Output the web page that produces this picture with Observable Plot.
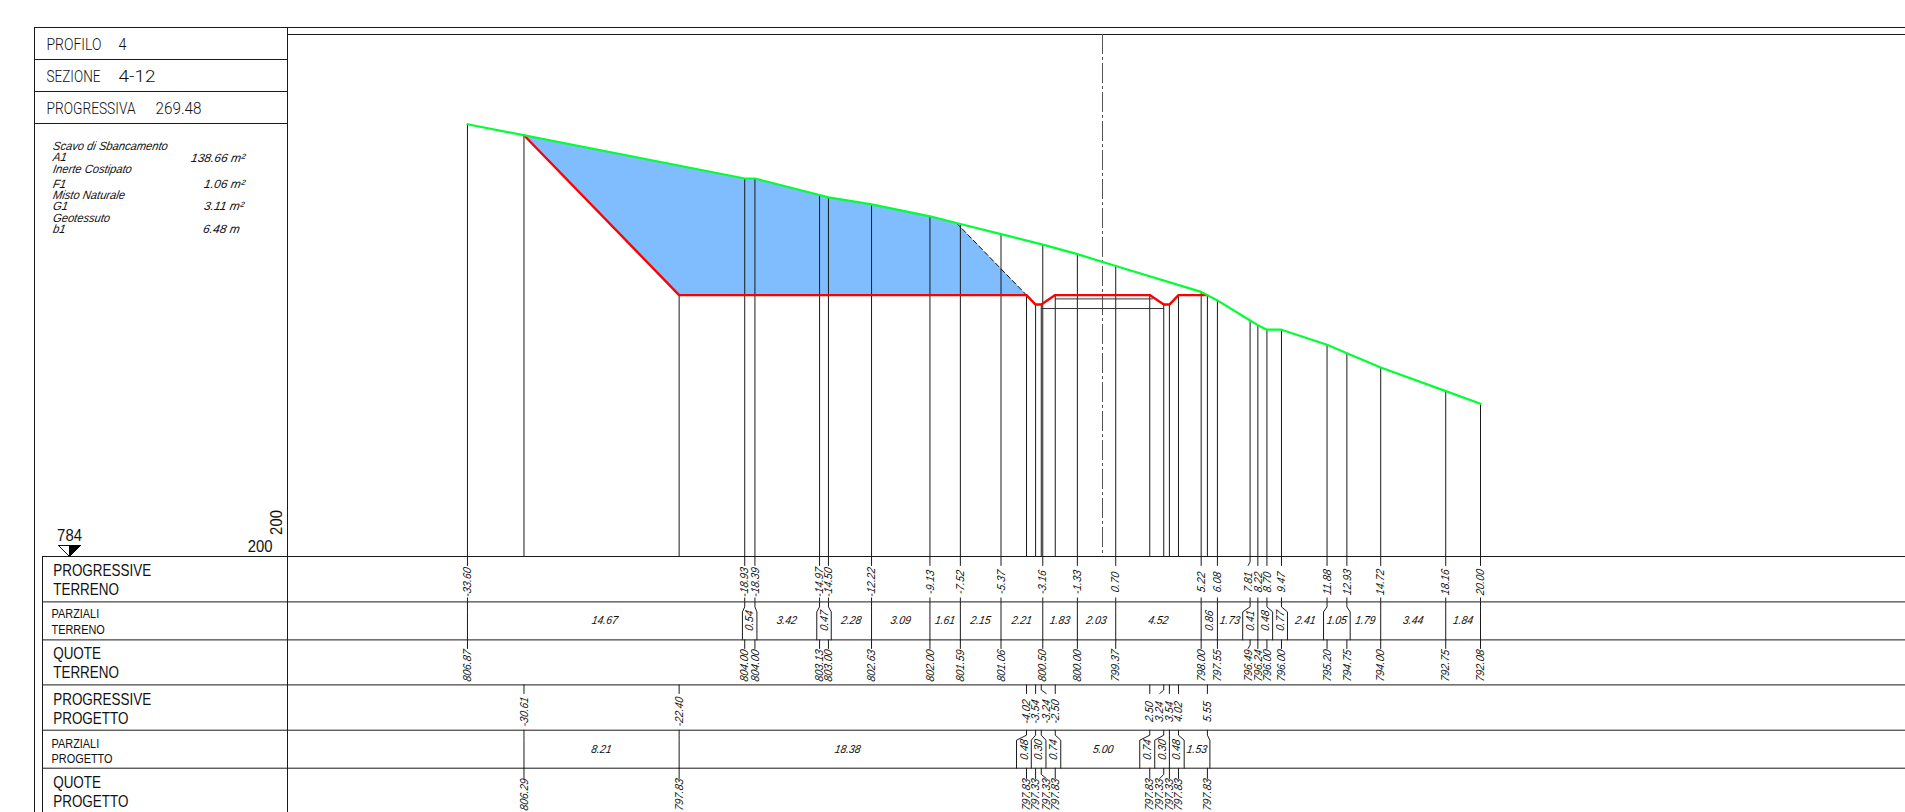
<!DOCTYPE html>
<html><head><meta charset="utf-8">
<script src="https://cdn.jsdelivr.net/npm/d3@7"></script>
<script src="https://cdn.jsdelivr.net/npm/@observablehq/plot@0.6"></script>
<style>html,body{margin:0;padding:0;background:#fff}svg{display:block}</style>
</head><body><div id="chart"></div>
<script>
// ---- values ----
const terrainStations = [-33.60,-18.93,-18.39,-14.97,-14.50,-12.22,-9.13,-7.52,-5.37,-3.16,-1.33,0.70,5.22,6.08,7.81,8.22,8.70,9.47,11.88,12.93,14.72,18.16,20.00];
const terrainLevels   = [806.87,804.00,804.00,803.13,803.00,802.63,802.00,801.59,801.06,800.50,800.00,799.37,798.00,797.55,796.49,796.24,796.00,796.00,795.20,794.75,794.00,792.75,792.08];
const terrainPartials = [14.67,0.54,3.42,0.47,2.28,3.09,1.61,2.15,2.21,1.83,2.03,4.52,0.86,1.73,0.41,0.48,0.77,2.41,1.05,1.79,3.44,1.84];
const projectStations = [-30.61,-22.40,-4.02,-3.54,-3.24,-2.50,2.50,3.24,3.54,4.02,5.55];
const projectLevels   = [806.29,797.83,797.83,797.33,797.33,797.83,797.83,797.33,797.33,797.83,797.83];
const projectPartials = [8.21,18.38,0.48,0.30,0.74,5.00,0.74,0.30,0.48,1.53];
const excavation = [[-30.61,806.29],[-18.93,804.00],[-18.39,804.00],[-14.97,803.13],[-14.50,803.00],[-12.22,802.63],[-9.13,802.00],[-7.72,801.64],[-4.02,797.83],[-22.40,797.83]];
const slopeDashed = [[-7.72,801.64],[-4.02,797.83]];
const layerTop = [[-2.50,797.63],[2.65,797.63]];
const layerBottom = [[-3.24,797.12],[3.24,797.12]];
const headerTitles = [["PROFILO",46,49,55],["4",118,49,8],["SEZIONE",46,81,54],["4-12",118,81,37],["PROGRESSIVA",46,113,89],["269.48",155,113,46]];
const quantityNames = [["Scavo di Sbancamento",149],["A1",160],["Inerte Costipato",172],["F1",187],["Misto Naturale",198],["G1",209],["Geotessuto",221],["b1",232]];
const quantityValues = [["138.66 m²",190,161],["1.06 m²",203,187],["3.11 m²",203,209],["6.48 m",202,232]];
const rowTitles = [["PROGRESSIVE",575,0],["TERRENO",594,0],["PARZIALI",617,1],["TERRENO",633,1],["QUOTE",658,0],["TERRENO",677,0],["PROGRESSIVE",704,0],["PROGETTO",723,0],["PARZIALI",747,1],["PROGETTO",762,1],["QUOTE",787,0],["PROGETTO",806,0]];

// ---- layout of the drawing sheet, in page pixels ----
const W = 1905, H = 812, K = 18.9, X0 = 1102, Y0 = 556, DATUM = 784;
const sx = p => (p - X0) / K, ey = p => DATUM + (Y0 - p) / K, pxOf = s => X0 + s * K;
const rows = [556, 601.4, 639.4, 684.4, 729.7, 767.7];
// horizontal shift of the cells' edges (kinks where a rotated figure needs room)
const terrainKink = new Map([[-18.93,-2.3],[-18.39,2],[-14.97,-2.8],[-14.50,2.8],[7.81,-7.4],[8.70,5.7],[9.47,6],[11.88,-3.5],[12.93,3.3]]);
const projectKink = new Map([[-4.02,-10],[-3.54,-4.3],[-3.24,4.7],[-2.50,5.5],[2.50,-10],[3.24,-9],[4.02,5.7],[5.55,2.5]]);
const terrainLabelShift = new Map([[7.81,-2]]);
const projectLabelShift = new Map([[-3.24,5],[3.24,-4]]);
const SANS = "'Liberation Sans',sans-serif";
const CAD = {fontFamily: SANS, fontStyle: "italic", fill: "#111"};
const LINE = {stroke: "#1a1a1a", strokeWidth: 1};
const fmt = d => d.toFixed(2);

const kinked = (stations, kink, top, bottom, k1, k2) => stations.flatMap(s => {
  const d = kink.get(s) || 0, x = pxOf(s);
  return [[x, top], [x, top + k1], [x + d, top + k2], [x + d, bottom]].map(([a, b]) => ({s, x: sx(a), y: ey(b)}));
});
const ticks = (stations, shift, a, b) => stations.flatMap(s => {
  const d = shift.get(s) || 0, x = pxOf(s);
  const pts = d ? [[x, a], [x, a + (b - a) * .6], [x + d, b]] : [[x, a], [x, b]];
  return pts.map(([p, q]) => ({s, x: sx(p), y: ey(q)}));
});
const cells = (stations, values, kink) => values.map((v, i) => {
  const l = pxOf(stations[i]) + (kink.get(stations[i]) || 0), r = pxOf(stations[i + 1]) + (kink.get(stations[i + 1]) || 0);
  return {v, x: sx((l + r) / 2), gap: r - l};
});
const hLabel = (cellsData, cy) => Plot.text(cellsData.filter(d => d.gap >= 22), {x: "x", y: () => ey(cy), text: d => fmt(d.v), fontSize: 11.5, className: "cad", ...CAD});
const vLabel = (cellsData, cy) => Plot.text(cellsData.filter(d => d.gap < 22), {x: "x", y: () => ey(cy), text: d => fmt(d.v), fontSize: 11.5, rotate: -90, className: "cad", ...CAD});
const stationText = (stations, values, shift, cy, f) => Plot.text(stations.map((s, i) => ({s, v: values[i]})), {
  x: d => sx(pxOf(d.s) + (shift.get(d.s) || 0)), y: () => ey(cy), text: d => f(d.v), rotate: -90, fontSize: 11.5, className: "cad", ...CAD});

const terrain = terrainStations.map((s, i) => ({s, e: terrainLevels[i]}));
const project = projectStations.map((s, i) => ({s, e: projectLevels[i]}));
const tCells = cells(terrainStations, terrainPartials, terrainKink);
const pCells = cells(projectStations, projectPartials, projectKink);
const shift5 = pCells.find(c => c.v === 5.00); if (shift5) shift5.x += 3 / K;

const chart = Plot.plot({
  width: W, height: H, margin: 0,
  x: {domain: [sx(0), sx(W)], range: [0, W], axis: null},
  y: {domain: [ey(H), ey(0)], range: [H, 0], axis: null},
  style: {background: "#fff", overflow: "hidden"},
  marks: [
    // excavation area
    Plot.line(excavation, {x: d => d[0], y: d => d[1], fill: "#7fbdff", stroke: "none"}),
    // sheet frame
    Plot.ruleX([34], {x: sx, y1: ey(27), y2: ey(H), ...LINE}),
    Plot.ruleX([287], {x: sx, y1: ey(27), y2: ey(H), ...LINE}),
    Plot.ruleX([42], {x: sx, y1: ey(556), y2: ey(H), ...LINE}),
    Plot.ruleY([59, 91, 123], {y: ey, x1: sx(34), x2: sx(287), ...LINE}),
    Plot.ruleY([27], {y: ey, x1: sx(34), x2: sx(W), ...LINE}),
    Plot.ruleY([34], {y: ey, x1: sx(287), x2: sx(W), ...LINE}),
    Plot.ruleY(rows, {y: ey, x1: sx(42), x2: sx(W), ...LINE}),
    // centre line
    Plot.ruleX([0], {y1: ey(34), y2: ey(556), stroke: "#555", strokeWidth: 1, strokeDasharray: "20,3,3,3"}),
    // verticals from the profile down to the table
    Plot.ruleX(terrain, {x: "s", y1: "e", y2: DATUM, ...LINE}),
    Plot.ruleX(project, {x: "s", y1: "e", y2: DATUM, ...LINE}),
    // pavement layers
    Plot.line(layerTop, {x: d => d[0], y: d => d[1], stroke: "#333", strokeWidth: 1}),
    Plot.line(layerBottom, {x: d => d[0], y: d => d[1], stroke: "#333", strokeWidth: 1}),
    Plot.line(slopeDashed, {x: d => d[0], y: d => d[1], stroke: "#111", strokeWidth: 1, strokeDasharray: "5,3"}),
    // profiles
    Plot.line(project, {x: "s", y: "e", stroke: "#ff0000", strokeWidth: 2.4, strokeLinejoin: "miter"}),
    Plot.line(terrain, {x: "s", y: "e", stroke: "#00ff33", strokeWidth: 2.2}),
    // table: terrain rows
    Plot.line(ticks(terrainStations, terrainLabelShift, 556, 565), {x: "x", y: "y", z: "s", ...LINE}),
    Plot.ruleX(terrainStations, {y1: ey(597.5), y2: ey(601.4), ...LINE}),
    Plot.line(kinked(terrainStations, terrainKink, 601.4, 639.4, 5, 10), {x: "x", y: "y", z: "s", ...LINE}),
    Plot.line(ticks(terrainStations, terrainLabelShift, 639.4, 648), {x: "x", y: "y", z: "s", ...LINE}),
    stationText(terrainStations, terrainStations, terrainLabelShift, 581.5, fmt),
    stationText(terrainStations, terrainLevels, terrainLabelShift, 665, fmt),
    hLabel(tCells, 620), vLabel(tCells, 620),
    // table: project rows
    Plot.line(ticks(projectStations, projectLabelShift, 684.4, 693), {x: "x", y: "y", z: "s", ...LINE}),
    Plot.line(kinked(projectStations, projectKink, 729.7, 767.7, 5, 10), {x: "x", y: "y", z: "s", ...LINE}),
    Plot.line(ticks(projectStations, projectLabelShift, 767.7, 778), {x: "x", y: "y", z: "s", ...LINE}),
    stationText(projectStations, projectStations, projectLabelShift, 711, fmt),
    stationText(projectStations, projectLevels, projectLabelShift, 794, fmt),
    hLabel(pCells, 749), vLabel(pCells, 749),
    // sheet titles
    Plot.text(headerTitles, {x: d => sx(d[1]), y: d => ey(d[2]), text: d => d[0], textAnchor: "start", lineAnchor: "bottom", fontFamily: "Roboto, 'Liberation Sans'", fontSize: 16.5, fontWeight: 300, fill: "#111", className: "fit-header"}),
    Plot.text(quantityNames, {x: () => sx(52), y: d => ey(d[1]), text: d => d[0], textAnchor: "start", lineAnchor: "bottom", fontSize: 12, className: "fit-93 slant", ...CAD}),
    Plot.text(quantityValues, {x: d => sx(d[1]), y: d => ey(d[2]), text: d => d[0], textAnchor: "start", lineAnchor: "bottom", fontSize: 12, className: "slant", ...CAD}),
    Plot.text(rowTitles.filter(d => !d[2]), {x: () => sx(52.7), y: d => ey(d[1]), text: d => d[0], textAnchor: "start", lineAnchor: "bottom", fontFamily: SANS, fontSize: 16.5, fill: "#111", className: "fit-815"}),
    Plot.text(rowTitles.filter(d => d[2]), {x: () => sx(51), y: d => ey(d[1]), text: d => d[0], textAnchor: "start", lineAnchor: "bottom", fontFamily: SANS, fontSize: 13.4, fill: "#111", className: "fit-815"}),
    // datum mark and scales
    Plot.text(["784"], {x: () => sx(69), y: () => ey(540), text: d => d, lineAnchor: "bottom", fontFamily: SANS, fontSize: 16.5, fill: "#111", className: "fit-90"}),
    Plot.text(["200"], {x: () => sx(259.6), y: () => ey(551), text: d => d, lineAnchor: "bottom", fontFamily: SANS, fontSize: 16.5, fill: "#111", className: "fit-90"}),
    Plot.text(["200"], {x: () => sx(276.7), y: () => ey(522), text: d => d, rotate: -90, fontFamily: SANS, fontSize: 16.5, fill: "#111", className: "fit-90"}),
    Plot.line([[58,545],[80,545],[69,556],[58,545]], {x: d => sx(d[0]), y: d => ey(d[1]), fill: "#fff", stroke: "#111", strokeWidth: 1}),
    Plot.line([[69,545],[80,545],[69,556],[69,545]], {x: d => sx(d[0]), y: d => ey(d[1]), fill: "#000", stroke: "#000", strokeWidth: 1})
  ]
});
document.getElementById("chart").append(chart);

// no condensed face is installed: narrow the drawn text the way the CAD font is narrow
const squeeze = (selector, ratio) => chart.querySelectorAll(selector + " text").forEach(t => {
  t.setAttribute("textLength", t.getComputedTextLength() * ratio);
  t.setAttribute("lengthAdjust", "spacingAndGlyphs");
});
squeeze(".fit-93", .93); squeeze(".fit-815", .815); squeeze(".fit-90", .9); squeeze(".cad", .9);
chart.querySelectorAll(".fit-header text").forEach((t, i) => {
  t.setAttribute("textLength", headerTitles[i][3]);
  t.setAttribute("lengthAdjust", "spacingAndGlyphs");
});
// the CAD figures lean further than the installed italic
chart.querySelectorAll(".cad text, .slant text").forEach(t => {
  const tr = t.getAttribute("transform");
  if (tr) t.setAttribute("transform", tr + " skewX(-10)");
});
</script></body></html>
